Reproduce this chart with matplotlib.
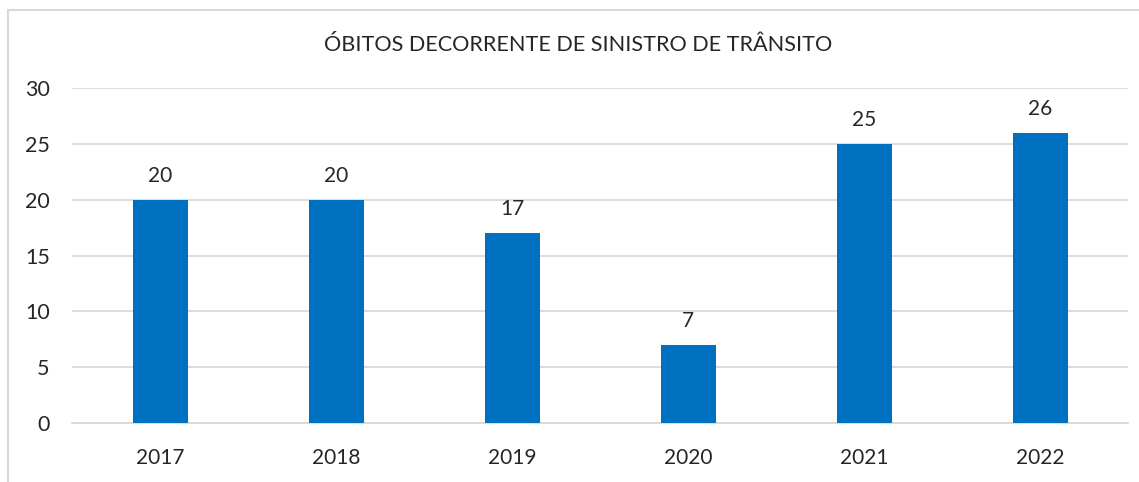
import matplotlib.pyplot as plt
from matplotlib.patches import Rectangle

# data
years = ['2017', '2018', '2019', '2020', '2021', '2022']
obitos = [20, 20, 17, 7, 25, 26]
yticks = [0, 5, 10, 15, 20, 25, 30]

plt.rcParams['font.family'] = ['Lato', 'DejaVu Sans']
txtcol = '#262626'

fig = plt.figure(figsize=(11.39, 4.82), dpi=100)
ax = fig.add_axes([72/1139, 59/482, 1056/1139, 335/482])

# chart frame (only left and top visible in the crop)
fig.patches.append(Rectangle((8/1139, -0.1), 1.2, (482-9.5)/482 + 0.1,
                             transform=fig.transFigure, fill=False,
                             edgecolor='#d9d9d9', linewidth=1.5))

x = range(len(years))
bars = ax.bar(x, obitos, width=0.3125, color='#0070c0', zorder=3)
ax.bar_label(bars, labels=[str(v) for v in obitos], padding=10,
             fontsize=15, color=txtcol)

ax.set_xlim(-0.5, len(years) - 0.5)
ax.set_ylim(0, 30)
ax.set_yticks(yticks)
ax.set_xticks(list(x))
ax.set_xticklabels(years)
ax.yaxis.grid(True, color='#d9d9d9', linewidth=1.3, zorder=0)
ax.tick_params(axis='y', length=0, pad=16, labelsize=15.5, labelcolor=txtcol)
ax.tick_params(axis='x', length=0, pad=18, labelsize=15, labelcolor=txtcol)
for s in ['top', 'right', 'left']:
    ax.spines[s].set_visible(False)
ax.spines['bottom'].set_color('#d9d9d9')
ax.spines['bottom'].set_linewidth(1.3)

fig.text(578/1139, (482-45)/482, 'ÓBITOS DECORRENTE DE SINISTRO DE TRÂNSITO',
         ha='center', va='center', fontsize=15.6, color=txtcol)

fig.savefig('out.png', dpi=100)
